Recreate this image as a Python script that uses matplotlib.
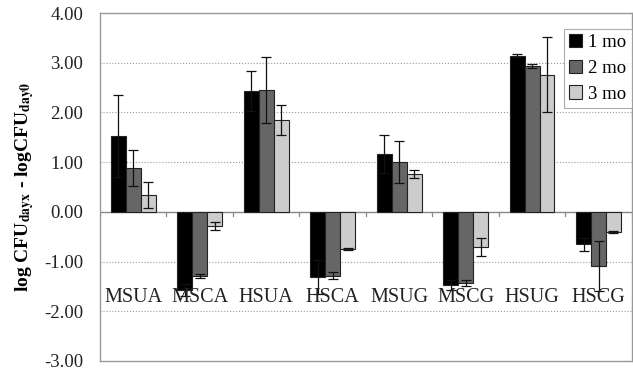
# Change in log CFU at 1, 2 and 3 months for each treatment

import numpy
import matplotlib
matplotlib.use('Agg')
import matplotlib.pyplot

# Data
groups = ['MSUA', 'MSCA', 'HSUA', 'HSCA', 'MSUG', 'MSCG', 'HSUG', 'HSCG']
series = ['1 mo', '2 mo', '3 mo']
mo1 = [1.53, -1.57, 2.43, -1.31, 1.17, -1.47, 3.14, -0.65]
mo2 = [0.89, -1.29, 2.45, -1.29, 1.00, -1.43, 2.94, -1.09]
mo3 = [0.34, -0.28, 1.85, -0.75, 0.76, -0.70, 2.76, -0.40]
err1 = [0.82, 0.12, 0.41, 0.35, 0.38, 0.10, 0.03, 0.13]
err2 = [0.36, 0.04, 0.66, 0.07, 0.42, 0.06, 0.04, 0.50]
err3 = [0.27, 0.08, 0.30, 0.02, 0.08, 0.18, 0.76, 0.02]
yticks = [4, 3, 2, 1, 0, -1, -2, -3]

matplotlib.rcParams['font.family'] = ['Liberation Serif', 'DejaVu Serif']
matplotlib.rcParams['mathtext.fontset'] = 'stix'

fig = matplotlib.pyplot.figure(figsize=(6.33, 3.74), dpi=100)
ax = fig.add_axes([0.158, 0.035, 0.84, 0.93])

colours = ['#000000', '#666666', '#cccccc']
width = 0.225
x = numpy.arange(len(groups))
for i, (vals, errs) in enumerate(zip([mo1, mo2, mo3], [err1, err2, err3])):
    ax.bar(x + (i - 1) * width, vals, width, color=colours[i],
           edgecolor='#222222', linewidth=0.8, label=series[i], zorder=2)
    ax.errorbar(x + (i - 1) * width, vals, yerr=errs, fmt='none',
                ecolor='#111111', elinewidth=0.9, capsize=3.5,
                capthick=0.9, zorder=3)

# Dotted grid lines except at zero
for v in yticks:
    if v not in (0, 4, -3):
        ax.axhline(v, color='#999999', linestyle=':', linewidth=0.8, zorder=0)
ax.axhline(0, color='#888888', linewidth=1.0, zorder=1)
# Tick marks on zero line at group boundaries
for b in numpy.arange(-0.5, len(groups), 1.0):
    ax.plot([b, b], [0, -0.08], color='#888888', linewidth=0.9, zorder=1)

# Category labels sit just below the bars
for xi, g in zip(x, groups):
    ax.text(xi, -1.72, g, ha='center', va='center', fontsize=14.5,
            color='#222222', zorder=4)

ax.set_xlim(-0.5, len(groups) - 0.5)
ax.set_ylim(-3, 4)
ax.set_yticks(yticks)
ax.set_yticklabels(['%.2f' % v for v in yticks], fontsize=13.5,
                   color='#222222')
ax.set_xticks([])
ax.tick_params(axis='y', length=0, pad=12)
for s in ax.spines.values():
    s.set_color('#999999')
    s.set_linewidth(1.0)

ax.set_ylabel(r'log CFU$_{\mathbf{dayx}}$ - logCFU$_{\mathbf{day0}}$',
              fontsize=14, fontweight='bold', labelpad=6)

leg = ax.legend(loc='upper right', bbox_to_anchor=(1.0, 0.955),
                fontsize=13.5, frameon=True, fancybox=False,
                handlelength=0.7, handleheight=0.7, handletextpad=0.3,
                borderpad=0.3, labelspacing=0.45, borderaxespad=0.0)
leg.get_frame().set_edgecolor('#999999')
leg.get_frame().set_linewidth(0.8)

matplotlib.pyplot.savefig('out.png', dpi=100)
